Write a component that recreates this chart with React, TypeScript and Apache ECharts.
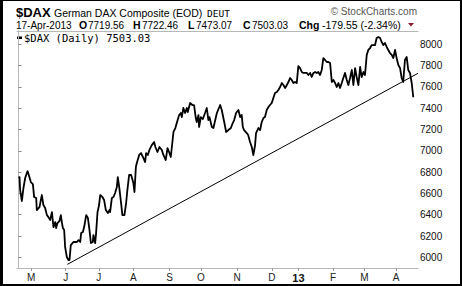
import { useEffect, useRef } from 'react';
import * as echarts from 'echarts';

// trading-day index (0 = 18-Apr-2012) and daily close of $DAX
const dayIndex = [0,0.6,1.0,2.1,3.1,4.2,5.7,6.7,7.8,9.1,9.9,11.2,11.6,13.3,14.8,15.8,16.9,18.0,19.0,20.1,21.2,22.2,23.3,23.9,24.7,26.0,26.9,27.5,28.2,29.0,29.6,30.7,31.7,32.4,33.2,34.9,37.1,38.1,39.2,39.8,40.9,41.7,43.0,44.1,45.1,46.0,47.2,47.6,48.7,49.3,50.2,51.2,51.9,53.3,54.4,55.5,56.8,57.8,58.2,59.3,60.3,61.4,62.5,63.1,64.0,65.2,66.0,67.3,68.4,69.2,70.3,71.6,73.0,73.7,74.6,75.2,76.7,77.9,79.4,80.5,81.1,82.2,83.2,84.7,86.2,87.0,88.3,89.6,91.1,92.1,93.6,94.7,95.7,96.8,98.5,99.7,100.6,102.1,103.2,103.8,104.8,105.9,107.0,107.6,109.1,110.5,111.6,112.7,113.3,114.4,114.8,115.9,117.2,119.7,120.7,121.4,122.9,123.9,126.1,128.2,129.2,130.9,132.0,133.4,135.0,136.2,137.1,138.3,139.8,140.9,141.9,142.6,143.4,145.1,146.0,147.2,148.3,149.3,150.4,151.0,152.5,153.6,154.6,155.7,156.7,157.8,158.9,159.9,161.0,162.0,163.1,164.2,165.2,166.3,167.4,168.4,169.5,170.6,171.6,172.7,173.7,174.8,175.8,176.9,177.9,179.0,180.1,181.1,182.2,183.3,184.3,185.4,186.4,187.5,188.6,189.6,190.6,191.7,192.8,193.8,194.9,196.0,197.0,198.1,199.2,200.2,201.3,202.3,203.4,204.4,205.5,206.5,207.6,208.7,209.7,210.8,211.9,212.9,214.0,215.0,216.1,217.2,218.2,219.3,220.3,221.4,222.4,223.5,224.6,225.6,226.7,227.7,228.8,229.9,230.9,232.0,233.0,234.1,235.1,236.2,237.3,238.3,239.4,240.4,241.5,242.6,243.6,244.6,245.7,246.8,247.8,248.9,250.0,251];
const closes = [6745,6754,6632,6529,6651,6745,6810,6763,6707,6688,6566,6557,6444,6472,6585,6491,6463,6397,6378,6350,6425,6284,6331,6275,6322,6341,6397,6331,6275,6256,6097,6003,5975,5975,6115,6144,6144,6162,6144,6228,6238,6284,6397,6369,6256,6134,6144,6209,6134,6228,6425,6491,6585,6566,6538,6444,6416,6444,6425,6557,6566,6604,6660,6754,6660,6510,6397,6397,6510,6632,6773,6773,6698,6613,6848,6885,6961,6979,6932,6895,6979,6961,7008,7054,7083,7036,6989,7036,7008,6961,6914,7026,6989,6942,7177,7214,7261,7336,7355,7317,7402,7355,7402,7364,7449,7430,7430,7308,7270,7336,7224,7317,7299,7402,7289,7317,7224,7214,7355,7430,7383,7261,7177,7195,7214,7261,7289,7355,7383,7317,7336,7224,7195,7167,7148,7083,7036,6961,7054,7167,7214,7195,7270,7308,7317,7383,7411,7430,7449,7496,7543,7552,7571,7599,7637,7618,7590,7618,7646,7684,7665,7637,7646,7637,7796,7777,7740,7731,7731,7731,7712,7731,7693,7731,7740,7731,7740,7712,7759,7871,7853,7834,7834,7824,7646,7665,7637,7599,7637,7590,7637,7684,7731,7665,7618,7684,7759,7618,7777,7693,7618,7787,7693,7740,7712,7900,7947,7965,7993,7993,7993,8059,8068,8059,8022,7993,8012,7975,7947,7918,7900,7871,7947,7871,7806,7777,7684,7646,7853,7881,7759,7731,7637,7503.03];

const trendDays = [31, 254];
const trendValues = [5934, 7728];

const monthTickDays = [8, 30, 51, 73, 96, 116, 139, 161, 178, 200, 220, 240];
const monthLabels = ['M', 'J', 'J', 'A', 'S', 'O', 'N', 'D', '13', 'F', 'M', 'A'];
const priceTicks = [6000, 6200, 6400, 6600, 6800, 7000, 7200, 7400, 7600, 7800, 8000];

const AR = '"Liberation Sans", Arial, sans-serif';
const MONO = '"DejaVu Sans Mono", monospace';

export default function App() {
  const ref = useRef<HTMLDivElement>(null);
  useEffect(() => {
    document.body.style.margin = '0';
    const chart = echarts.init(ref.current!, null, { renderer: 'svg' });
    const n = Math.min(dayIndex.length, closes.length);
    const priceData = [] as number[][];
    for (let i = 0; i < n; i++) priceData.push([dayIndex[i], closes[i]]);
    const frame = '#b8b8b8';
    const txt = (x: number, y: number, text: string, font: string, fill = '#000', align = 'left') => ({
      type: 'text', x, y, silent: true,
      style: { text, font, fill, align, verticalAlign: 'middle' },
    });
    chart.setOption({
      animation: false,
      backgroundColor: '#fff',
      grid: { left: 17, right: 44, top: 31, bottom: 18, show: false },
      xAxis: [
        {
          type: 'value', min: -1, max: 254, position: 'bottom',
          axisLine: { show: true, lineStyle: { color: frame, width: 1 } },
          axisTick: { show: true, customValues: monthTickDays, length: 3, lineStyle: { color: '#999' } },
          axisLabel: {
            customValues: monthTickDays, margin: 4, fontSize: 10, fontFamily: AR, color: '#222',
            formatter: (v: number) => {
              const k = monthTickDays.indexOf(Math.round(v));
              const s = k >= 0 ? monthLabels[k] : '';
              return s === '13' ? '{b|13}' : s;
            },
            rich: { b: { fontWeight: 'bold', fontSize: 11, fontFamily: AR, color: '#111' } },
          },
          splitLine: { show: false },
        },
        {
          type: 'value', min: -1, max: 254, position: 'top',
          axisLine: { show: true, lineStyle: { color: frame, width: 1 } },
          axisTick: { show: false }, axisLabel: { show: false }, splitLine: { show: false },
        },
      ],
      yAxis: [
        {
          type: 'value', min: 5900, max: 8125, position: 'right',
          axisLine: { show: true, lineStyle: { color: frame, width: 1 } },
          axisTick: { show: true, customValues: priceTicks, length: 3, lineStyle: { color: '#888' } },
          axisLabel: {
            customValues: priceTicks, margin: 2, fontSize: 10, fontFamily: AR, color: '#111',
            formatter: (v: number) => String(Math.round(v)),
          },
          splitLine: { show: false },
        },
        {
          type: 'value', min: 5900, max: 8125, position: 'left',
          axisLine: { show: true, lineStyle: { color: frame, width: 1 } },
          axisTick: { show: false }, axisLabel: { show: false }, splitLine: { show: false },
        },
      ],
      series: [
        {
          name: '$DAX (Daily)', type: 'line', xAxisIndex: 0, yAxisIndex: 0,
          data: priceData, showSymbol: false, clip: true, silent: true,
          lineStyle: { color: '#000', width: 1.8, join: 'round' },
        },
        {
          name: 'trend', type: 'line', xAxisIndex: 0, yAxisIndex: 0,
          data: trendDays.map((d, i) => [d, trendValues[i]]), showSymbol: false, clip: true, silent: true,
          lineStyle: { color: '#000', width: 1 },
        },
      ],
      graphic: [
        // outer black border
        { type: 'rect', silent: true, shape: { x: 0, y: 0, width: 3, height: 286 }, style: { fill: '#000' } },
        { type: 'rect', silent: true, shape: { x: 0, y: 0, width: 462, height: 1 }, style: { fill: '#000' } },
        { type: 'rect', silent: true, shape: { x: 460, y: 0, width: 2, height: 286 }, style: { fill: '#000' } },
        { type: 'rect', silent: true, shape: { x: 0, y: 284, width: 462, height: 2 }, style: { fill: '#000' } },
        // header line 1
        txt(16, 12, '$DAX', `bold 13px ${AR}`),
        txt(54, 12.5, 'German DAX Composite (EOD)', `10.5px ${AR}`),
        txt(207, 13, 'DEUT', `9.5px ${MONO}`),
        txt(417, 11.5, '© StockCharts.com', `10px ${AR}`, '#555', 'right'),
        // header line 2
        txt(16, 25, '17-Apr-2013', `10px ${AR}`),
        txt(79, 25, 'O', `bold 10.5px ${AR}`),
        txt(88, 25, '7719.56', `10px ${AR}`),
        txt(133, 25, 'H', `bold 10.5px ${AR}`),
        txt(142, 25, '7722.46', `10px ${AR}`),
        txt(188, 25, 'L', `bold 10.5px ${AR}`),
        txt(196, 25, '7473.07', `10px ${AR}`),
        txt(243, 25, 'C', `bold 10.5px ${AR}`),
        txt(252, 25, '7503.03', `10px ${AR}`),
        txt(299, 25, 'Chg', `bold 10.5px ${AR}`),
        txt(322, 25, '-179.55 (-2.34%)', `10.5px ${AR}`),
        { type: 'polygon', silent: true, shape: { points: [[408, 23], [414, 23], [411, 26.5]] }, style: { fill: '#8c1a2a' } },
        // legend
        { type: 'rect', silent: true, shape: { x: 17, y: 36.5, width: 5, height: 2.5 }, style: { fill: '#000' } },
        txt(24, 38, '$DAX (Daily) 7503.03', `10.5px ${MONO}`),
      ],
    });
    return () => chart.dispose();
  }, []);
  return <div ref={ref} style={{ width: 462, height: 286, background: '#fff' }} />;
}
